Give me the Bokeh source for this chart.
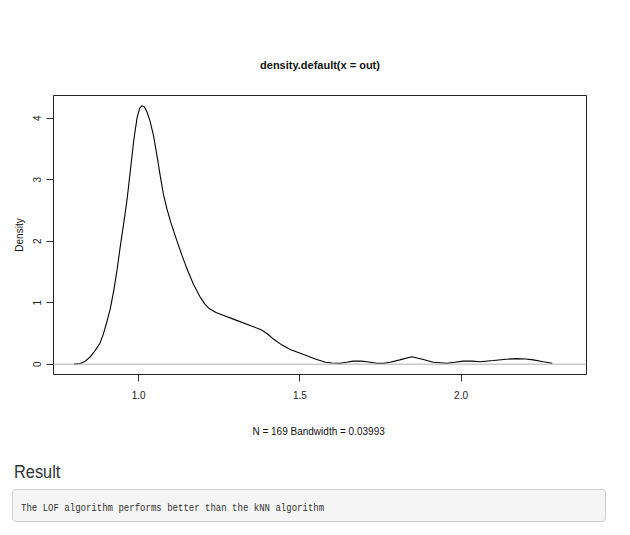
from bokeh.plotting import figure
from bokeh.models import Span, FixedTicker, Div
from bokeh.layouts import column
from bokeh.embed import file_html
from bokeh.resources import INLINE

# density estimate
dens_x = [0.80, 0.82, 0.835, 0.85, 0.865, 0.88, 0.89, 0.90, 0.912, 0.923, 0.933,
          0.943, 0.954, 0.964, 0.975, 0.985, 0.995, 1.003, 1.01, 1.018, 1.026,
          1.035, 1.046, 1.056, 1.067, 1.077, 1.088, 1.10, 1.119, 1.135, 1.15,
          1.17, 1.19, 1.205, 1.22, 1.24, 1.26, 1.30, 1.35, 1.38, 1.40, 1.42,
          1.445, 1.47, 1.495, 1.52, 1.55, 1.58, 1.60, 1.625, 1.645, 1.666, 1.69,
          1.708, 1.739, 1.76, 1.78, 1.81, 1.847, 1.88, 1.914, 1.956, 1.98, 2.007,
          2.035, 2.059, 2.10, 2.14, 2.172, 2.20, 2.224, 2.255, 2.283]
dens_y = [0.0, 0.01, 0.05, 0.12, 0.22, 0.34, 0.48, 0.66, 0.90, 1.20, 1.53,
          1.91, 2.30, 2.67, 3.18, 3.64, 4.00, 4.16, 4.20, 4.18, 4.10,
          3.96, 3.72, 3.42, 3.06, 2.76, 2.52, 2.30, 2.00, 1.76, 1.55,
          1.30, 1.10, 0.98, 0.90, 0.84, 0.80, 0.72, 0.62, 0.56, 0.49, 0.40,
          0.31, 0.24, 0.19, 0.14, 0.08, 0.03, 0.018, 0.016, 0.03, 0.05, 0.05,
          0.04, 0.016, 0.016, 0.03, 0.07, 0.12, 0.08, 0.03, 0.016, 0.03, 0.05,
          0.05, 0.04, 0.06, 0.08, 0.09, 0.085, 0.07, 0.04, 0.016]

x_ticks = [1.0, 1.5, 2.0]
x_tick_labels = ["1.0", "1.5", "2.0"]
y_ticks = [0, 1, 2, 3, 4]
y_tick_labels = ["0", "1", "2", "3", "4"]

title_text = "density.default(x = out)"
x_label = "N = 169  Bandwidth = 0.03993"
y_label = "Density"
result_heading = "Result"
result_text = "The LOF algorithm performs better than the kNN algorithm"

FONT = "'Liberation Sans', Arial, sans-serif"

p = figure(width=614, height=445, output_backend="svg", toolbar_location=None,
           x_range=(0.736, 2.389), y_range=(-0.168, 4.368),
           min_border_left=53, min_border_right=28, min_border_top=95,
           min_border_bottom=71, title=title_text)
p.margin = (0, 0, 0, 0)
p.grid.visible = False
p.background_fill_color = "white"
p.border_fill_color = "white"
p.outline_line_color = "#222222"
p.outline_line_width = 1

p.title.align = "center"
p.title.text_font = FONT
p.title.text_font_size = "11px"
p.title.text_font_style = "bold"
p.title.text_color = "#111111"
p.title.standoff = 50

for ax in (p.xaxis[0], p.yaxis[0]):
    ax.axis_line_color = None
    ax.major_tick_in = 0
    ax.major_tick_out = 7
    ax.minor_tick_line_color = None
    ax.major_tick_line_color = "#333333"
    ax.major_label_text_font = FONT
    ax.major_label_text_font_size = "10px"
    ax.major_label_text_color = "#222222"
    ax.axis_label_text_font = FONT
    ax.axis_label_text_font_size = "10px"
    ax.axis_label_text_font_style = "normal"
    ax.axis_label_text_color = "#111111"

p.xaxis[0].ticker = FixedTicker(ticks=x_ticks)
p.xaxis[0].major_label_overrides = dict(zip(x_ticks, x_tick_labels))
p.xaxis[0].major_label_standoff = 9
p.xaxis[0].axis_label = x_label
p.xaxis[0].axis_label_standoff = 24

p.yaxis[0].ticker = FixedTicker(ticks=y_ticks)
p.yaxis[0].major_label_overrides = dict(zip(y_ticks, y_tick_labels))
p.yaxis[0].major_label_orientation = "vertical"
p.yaxis[0].major_label_standoff = 5
p.yaxis[0].axis_label = y_label
p.yaxis[0].axis_label_standoff = 6

p.add_layout(Span(location=0, dimension="width", line_color="#b0b0b0", line_width=1))
p.line(dens_x, dens_y, line_color="black", line_width=1.1)

html = f"""
<div style="position:relative;width:614px;height:82px;background:white;">
  <div style="position:absolute;left:14px;top:16px;font-family:{FONT};font-size:19px;color:#333;line-height:22px;transform:scaleX(0.86);transform-origin:left top;">{result_heading}</div>
  <div style="position:absolute;left:12px;top:44px;width:594px;height:33px;background:#f5f5f5;border:1px solid #d0d0d0;border-radius:4px;"></div>
  <div style="position:absolute;left:21px;top:57px;font-family:'Liberation Mono', monospace;font-size:11px;line-height:13px;color:#333;white-space:pre;transform:scaleX(0.82);transform-origin:left top;">{result_text}</div>
</div>
"""
div = Div(text=html, width=614, height=82, margin=(0, 0, 0, 0))

layout = column(p, div, spacing=0)
open("out.html", "w").write(file_html(layout, INLINE))
